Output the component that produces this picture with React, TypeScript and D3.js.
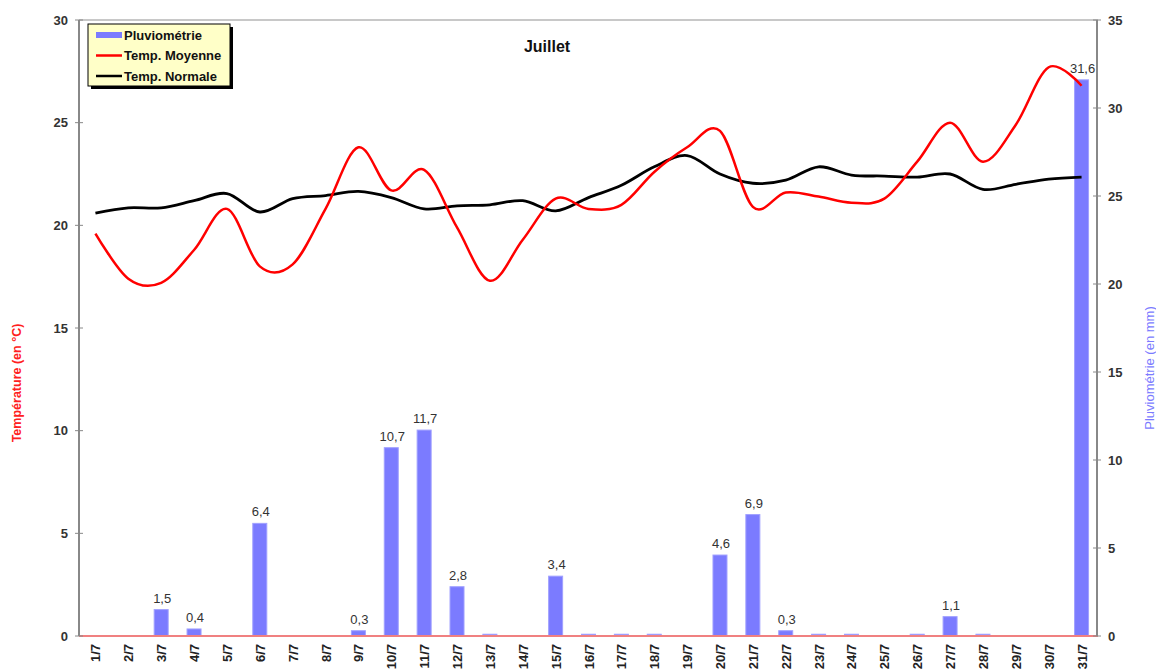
import React from 'react';
import * as d3 from 'd3';

// categories
const days = d3.range(1, 32).map((d) => `${d}/7`);

// pluviometrie (mm), right axis
const rain = [
  0, 0, 1.5, 0.4, 0, 6.4, 0, 0, 0.3, 10.7, 11.7, 2.8, 0.1, 0, 3.4, 0.1,
  0.1, 0.1, 0, 4.6, 6.9, 0.3, 0.1, 0.1, 0, 0.1, 1.1, 0.1, 0, 0, 31.6,
];

// temperature moyenne (°C)
const tempMoy = [
  19.6, 17.4, 17.2, 18.8, 20.8, 18.0, 18.1, 20.8, 23.8, 21.7, 22.7, 19.9,
  17.3, 19.3, 21.3, 20.8, 21.0, 22.6, 23.8, 24.6, 20.9, 21.6, 21.4, 21.1,
  21.3, 23.1, 25.0, 23.1, 24.9, 27.7, 26.8,
];

// temperature normale (°C)
const tempNorm = [
  20.6, 20.85, 20.85, 21.2, 21.55, 20.65, 21.3, 21.45, 21.65, 21.35, 20.8,
  20.95, 21.0, 21.2, 20.7, 21.35, 21.95, 22.85, 23.4, 22.5, 22.05, 22.2,
  22.85, 22.45, 22.4, 22.35, 22.5, 21.75, 22.0, 22.25, 22.35,
];

const leftTicks = [0, 5, 10, 15, 20, 25, 30];
const rightTicks = [0, 5, 10, 15, 20, 25, 30, 35];

const legendItems = [
  { label: 'Pluviométrie', kind: 'bar', color: '#7b7bff' },
  { label: 'Temp. Moyenne', kind: 'line', color: '#ff0000' },
  { label: 'Temp. Normale', kind: 'line', color: '#000000' },
];

const W = 1156;
const H = 672;
const left = 79;
const right = 1098;
const top = 20;
const bottom = 636;
const font = '"Liberation Sans", Arial, sans-serif';

const fmt = (v: number) => String(v).replace('.', ',');

export default function App() {
  const x = d3.scaleBand().domain(days).range([left, right]).padding(0);
  const yT = d3.scaleLinear().domain([0, 30]).range([bottom, top]);
  const yR = d3.scaleLinear().domain([0, 35]).range([bottom, top]);
  const cx = (d: string) => (x(d) as number) + x.bandwidth() / 2;
  const barW = 14;

  const line = d3
    .line<number>()
    .x((_, i) => cx(days[i]))
    .y((v) => yT(v))
    .curve(d3.curveCardinal.tension(0));

  return (
    <svg
      width={W}
      height={H}
      style={{ position: 'absolute', left: 0, top: 0, background: '#fff' }}
      fontFamily={font}
    >
      {/* plot frame top */}
      <line x1={left} x2={right} y1={top} y2={top} stroke="#c8c8c8" strokeWidth={2} />

      {/* bars */}
      {rain.map((v, i) =>
        v > 0 ? (
          <rect
            key={i}
            x={cx(days[i]) - barW / 2}
            y={yR(v)}
            width={barW}
            height={bottom - yR(v)}
            fill="#7b7bff"
            stroke="#a0a0ff"
            strokeWidth={1}
          />
        ) : null
      )}

      {/* x axis */}
      <line x1={left} x2={right} y1={bottom} y2={bottom} stroke="#f08080" strokeWidth={2} />

      {/* lines */}
      <path d={line(tempNorm) as string} fill="none" stroke="#000" strokeWidth={2.8} />
      <path d={line(tempMoy) as string} fill="none" stroke="#ff0000" strokeWidth={2.5} />

      {/* bar labels */}
      {rain.map((v, i) =>
        v >= 0.3 ? (
          <text
            key={i}
            x={cx(days[i]) + 1}
            y={yR(v) - 7}
            textAnchor="middle"
            fontSize={13}
            fill="#333"
          >
            {fmt(v)}
          </text>
        ) : null
      )}

      {/* left axis */}
      <line x1={left} x2={left} y1={top} y2={bottom} stroke="#888" strokeWidth={2} />
      {leftTicks.map((t) => (
        <g key={t}>
          <line x1={left - 4} x2={left + 4} y1={yT(t)} y2={yT(t)} stroke="#888" strokeWidth={1} />
          <text
            x={68}
            y={yT(t)}
            dy="0.35em"
            textAnchor="end"
            fontSize={13}
            fontWeight="bold"
            fill="#333"
          >
            {t}
          </text>
        </g>
      ))}
      <text
        transform={`translate(21,383) rotate(-90)`}
        textAnchor="middle"
        fontSize={12.5}
        fontWeight="bold"
        fill="#ff2020"
      >
        Température (en °C)
      </text>

      {/* right axis */}
      <line x1={right - 1} x2={right - 1} y1={top} y2={bottom} stroke="#888" strokeWidth={2} />
      {rightTicks.map((t) => (
        <g key={t}>
          <line x1={right - 5} x2={right + 3} y1={yR(t)} y2={yR(t)} stroke="#888" strokeWidth={1} />
          <text
            x={1108}
            y={yR(t)}
            dy="0.35em"
            textAnchor="start"
            fontSize={13}
            fontWeight="bold"
            fill="#333"
          >
            {t}
          </text>
        </g>
      ))}
      <text
        transform={`translate(1154,368) rotate(-90)`}
        textAnchor="middle"
        fontSize={13}
        fill="#7b7bff"
      >
        Pluviométrie (en mm)
      </text>

      {/* x tick labels */}
      {days.map((d) => (
        <text
          key={d}
          transform={`translate(${cx(d) + 5},644) rotate(-90)`}
          textAnchor="end"
          fontSize={13}
          fontWeight="bold"
          fill="#222"
        >
          {d}
        </text>
      ))}

      {/* title */}
      <text x={547} y={52} textAnchor="middle" fontSize={16} fontWeight="bold" fill="#111">
        Juillet
      </text>

      {/* legend */}
      <rect x={91} y={27} width={142} height={62} fill="#000" />
      <rect x={88} y={24} width={142} height={62} fill="#ffffc8" stroke="#000" strokeWidth={1} />
      {legendItems.map((it, i) => {
        const ly = 35 + i * 20.5;
        return (
          <g key={it.label}>
            {it.kind === 'bar' ? (
              <rect x={96} y={ly - 3} width={26} height={6} fill={it.color} />
            ) : (
              <line x1={96} x2={122} y1={ly} y2={ly} stroke={it.color} strokeWidth={2.5} />
            )}
            <text x={124} y={ly} dy="0.35em" fontSize={13} fontWeight="bold" fill="#111">
              {it.label}
            </text>
          </g>
        );
      })}
    </svg>
  );
}
